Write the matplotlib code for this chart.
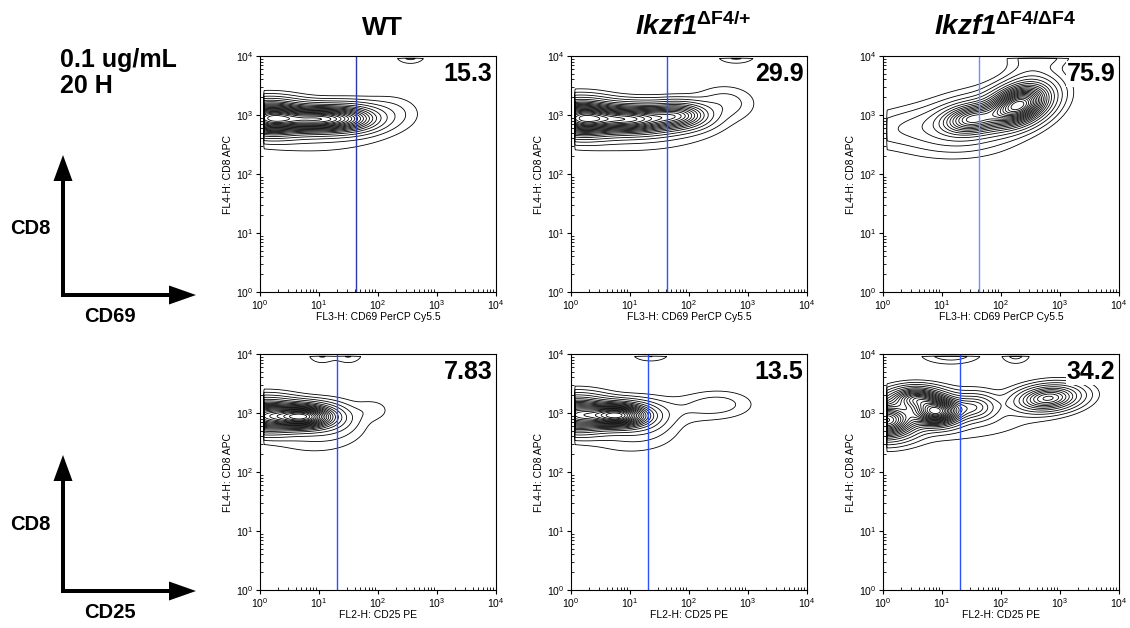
import numpy as np
import matplotlib
matplotlib.use('Agg')
import matplotlib.pyplot as plt
from matplotlib.patches import FancyArrow

plt.rcParams['font.family'] = ['Liberation Sans', 'DejaVu Sans']
plt.rcParams['mathtext.fontset'] = 'custom'
plt.rcParams['mathtext.rm'] = 'Liberation Sans'
plt.rcParams['mathtext.bf'] = 'Liberation Sans:bold'
plt.rcParams['mathtext.it'] = 'Liberation Sans:italic'
plt.rcParams['mathtext.bfit'] = 'Liberation Sans:italic:bold'

# column titles and per-panel texts
col_titles = ['WT', r'$\mathbfit{Ikzf1}^{\mathbf{ΔF4/{+}}}$', r'$\mathbfit{Ikzf1}^{\mathbf{ΔF4/ΔF4}}$']
title_sizes = [19, 20, 20]
x_labels = ['FL3-H: CD69 PerCP Cy5.5', 'FL2-H: CD25 PE']
y_label = 'FL4-H: CD8 APC'
percents = [['15.3', '29.9', '75.9'],
            ['7.83', '13.5', '34.2']]
gates = [42, 20]   # gate position on the x axis, per row
gate_colors = [['#2a3aa8', '#2b50ff', '#6f8cff'],
               ['#2b50ff', '#2b50ff', '#2b50ff']]

# population blobs, in decades:
# (x centre, y centre, x spread, y spread, correlation, weight)
wt_cd69 = [(0.15, 2.95, 0.35, 0.16, 0.0, 1.0),
           (1.00, 2.93, 0.45, 0.13, 0.0, 1.0),
           (1.60, 2.95, 0.30, 0.14, 0.0, 0.25),
           (2.20, 3.05, 0.30, 0.17, 0.0, 0.04),
           (0.90, 2.75, 0.80, 0.25, 0.0, 0.04),
           (2.55, 4.00, 0.15, 0.08, 0.0, 0.05)]
het_cd69 = [(0.15, 2.95, 0.35, 0.17, 0.0, 1.0),
            (1.00, 2.93, 0.50, 0.14, 0.0, 1.0),
            (1.85, 3.00, 0.30, 0.13, 0.0, 0.5),
            (2.60, 3.20, 0.30, 0.17, 0.0, 0.06),
            (1.00, 2.75, 0.90, 0.25, 0.0, 0.04),
            (2.80, 4.00, 0.20, 0.08, 0.0, 0.05)]
ko_cd69 = [(2.30, 3.17, 0.31, 0.21, 0.35, 1.0),
           (1.50, 2.93, 0.30, 0.15, 0.2, 0.5),
           (1.50, 2.92, 0.60, 0.28, 0.4, 0.12),
           (0.40, 2.80, 0.60, 0.20, 0.3, 0.05),
           (1.40, 2.60, 0.50, 0.20, 0.0, 0.03),
           (2.50, 3.65, 0.25, 0.20, 0.0, 0.04),
           (2.65, 4.00, 0.30, 0.12, 0.0, 0.05)]
wt_cd25 = [(0.10, 2.95, 0.35, 0.16, 0.0, 1.0),
           (0.75, 2.94, 0.30, 0.12, 0.0, 1.2),
           (1.20, 2.90, 0.30, 0.18, 0.0, 0.1),
           (1.90, 3.05, 0.20, 0.12, 0.0, 0.03),
           (0.90, 2.65, 0.50, 0.22, 0.0, 0.04),
           (1.05, 4.00, 0.15, 0.10, 0.0, 0.05),
           (1.50, 4.00, 0.15, 0.10, 0.0, 0.05)]
het_cd25 = [(0.10, 2.97, 0.35, 0.17, 0.0, 1.0),
            (0.80, 2.96, 0.30, 0.12, 0.0, 1.2),
            (1.20, 2.92, 0.30, 0.18, 0.0, 0.12),
            (2.50, 3.15, 0.35, 0.14, 0.0, 0.055),
            (1.80, 3.05, 0.50, 0.15, 0.0, 0.03),
            (1.00, 2.65, 0.50, 0.22, 0.0, 0.04),
            (1.35, 4.00, 0.20, 0.08, 0.0, 0.05)]
ko_cd25 = [(0.05, 2.88, 0.30, 0.18, 0.0, 1.0),
           (0.90, 3.03, 0.25, 0.14, 0.0, 1.1),
           (0.55, 3.25, 0.25, 0.11, 0.0, 0.6),
           (1.55, 3.10, 0.22, 0.13, 0.0, 0.25),
           (2.80, 3.25, 0.32, 0.13, 0.2, 0.55),
           (1.00, 2.95, 1.00, 0.27, 0.0, 0.04),
           (1.15, 4.00, 0.30, 0.10, 0.0, 0.06),
           (2.25, 4.00, 0.15, 0.10, 0.0, 0.05)]
panels = [[wt_cd69, het_cd69, ko_cd69],
          [wt_cd25, het_cd25, ko_cd25]]

# contour levels as fractions of the peak (equal-probability style)
level_fracs = np.concatenate([[0.012, 0.03, 0.06], np.linspace(0.1, 0.95, 18)])


def density(blobs, gx, gy):
    z = np.zeros_like(gx)
    for mx, my, sx, sy, rho, w in blobs:
        dx = (gx - mx) / sx
        dy = (gy - my) / sy
        q = (dx**2 - 2*rho*dx*dy + dy**2) / (1 - rho**2)
        z += w * np.exp(-0.5 * q)
    # no events below channel 1 / above the top channel
    z[(gx < 0.06) | (gy > 3.96)] = 0
    return z


W, H = 1130, 628
fig = plt.figure(figsize=(W/100, H/100), dpi=100)

lefts = [260, 571, 883]
tops = [56, 354]
size = 236

g = np.linspace(-0.1, 4.1, 320)
GX, GY = np.meshgrid(g, g)

for r in range(2):
    for c in range(3):
        ax = fig.add_axes([lefts[c]/W, 1 - (tops[r]+size)/H, size/W, size/H])
        z = density(panels[r][c], GX, GY)
        ax.contour(10**GX, 10**GY, z, levels=z.max()*level_fracs,
                   colors='black', linewidths=0.6)
        ax.axvline(gates[r], color=gate_colors[r][c], lw=1.0)
        ax.set_xscale('log')
        ax.set_yscale('log')
        ax.set_xlim(1, 1e4)
        ax.set_ylim(1, 1e4)
        ax.tick_params(which='major', direction='out', length=3, labelsize=7.5, pad=1.5)
        ax.tick_params(which='minor', direction='in', length=2.5)
        ax.set_xlabel(x_labels[r], fontsize=7.5, labelpad=0)
        ax.set_ylabel(y_label, fontsize=7.5, labelpad=2)
        for s in ax.spines.values():
            s.set_linewidth(0.8)
        ax.text(0.985, 0.975, percents[r][c], transform=ax.transAxes,
                ha='right', va='top', fontsize=18, fontweight='bold',
                bbox=dict(facecolor='white', edgecolor='none', pad=0.5), zorder=5)

# column titles
for c, t in enumerate(col_titles):
    fig.text((lefts[c] + size/2 + 4)/W, 1 - 35/H, t, ha='center', va='baseline',
             fontsize=title_sizes[c], fontweight='bold')

# condition text
fig.text(60/W, 1 - 67/H, '0.1 ug/mL', fontsize=18, fontweight='bold', va='baseline')
fig.text(60/W, 1 - 93/H, '20 H', fontsize=18, fontweight='bold', va='baseline')

# axis cartoons
ov = fig.add_axes([0, 0, 1, 1], zorder=-1)
ov.set_xlim(0, W)
ov.set_ylim(H, 0)
ov.axis('off')
for base, tip_v, lab_y, name in [(295, 155, 228, 'CD69'), (591, 455, 525, 'CD25')]:
    ov.add_patch(FancyArrow(63, base, 0, tip_v - base, width=4, head_width=19,
                            head_length=26, length_includes_head=True,
                            color='black', lw=0))
    ov.add_patch(FancyArrow(61, base, 196 - 61, 0, width=4, head_width=19,
                            head_length=27, length_includes_head=True,
                            color='black', lw=0))
    ov.text(30, lab_y, 'CD8', ha='center', va='center', fontsize=14.5, fontweight='bold')
    ov.text(110, base + 22, name, ha='center', va='center', fontsize=14.5, fontweight='bold')

fig.savefig('out.png', dpi=100)
